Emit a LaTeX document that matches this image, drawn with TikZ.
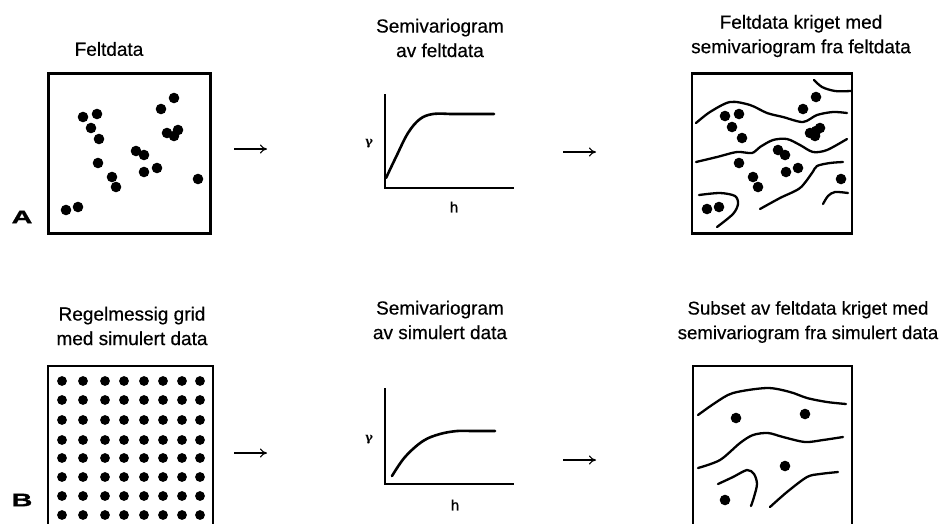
\documentclass[tikz,border=0pt]{standalone}
\usepackage{fontspec}
\setmainfont[FakeBold=0.4]{Liberation Sans}
\newfontfamily\labfont[FakeStretch=1.6,FakeBold=1.5]{Liberation Sans Bold}
\newfontfamily\hfont[FakeBold=0.8]{Liberation Sans}
\newfontfamily\gfont{DejaVu Serif}
\usetikzlibrary{arrows.meta}
\begin{document}
\begin{tikzpicture}[x=1pt,y=-1pt,
  frame/.style={draw,line width=2.4pt,inner sep=0pt},
  iso/.style={line width=2.3pt,line cap=round,line join=round},
  axis/.style={line width=2pt},
  curve/.style={line width=2.6pt,line cap=round},
  title/.style={align=center,font=\fontsize{19}{24.5}\selectfont,inner sep=0pt},
  panel/.style={font=\labfont\fontsize{18}{18}\selectfont,inner sep=0pt},
  gam/.style={font=\gfont\bfseries\fontsize{12}{12}\selectfont,inner sep=0pt},
  hlab/.style={font=\hfont\fontsize{15}{15}\selectfont,inner sep=0pt},
  flow/.style={line width=1.1pt,-{To[length=7pt,width=9pt]}}]
\useasboundingbox (0,0) rectangle (941,523);
\clip (0,0) rectangle (941,523);
\fill[white] (0,0) rectangle (941,523);

% ---------- Row A ----------
\node[title] (tA1) at (109,49) {Feltdata};
\node[title] (tA2) at (440,38) {Semivariogram\\av feltdata};
\node[title] (tA3) at (801,36) {Feltdata kriget med\\semivariogram fra feltdata};

\node[frame,minimum width=162pt,minimum height=160pt] (boxA) at (129.5,153.5) {};
\node[panel] (labA) at (22,217) {A};
\foreach \p in {(83,117),(97,114),(91,128),(99,139),(98,163),(112,177),(116,187),
  (66,210),(78,207),(136,151),(144,155),(144,172),(157,168),(161,109),(174,98),
  (167,133),(174,136),(178,130),(198,179)}
  \fill \p circle[radius=5.3];

\coordinate (a1s) at (234,149);
\coordinate (a1e) at (267,149);
\draw[flow] (a1s) -- (a1e);

% semivariogram A
\coordinate (oA) at (385,188);
\coordinate (yA) at (385,94);
\coordinate (xA) at (514,188);
\draw[axis] (yA) -- (oA) -- (xA);
\node[gam] (gA) at (369,144) {γ};
\node[hlab] (hA) at (454,207) {h};
\draw[curve] plot[smooth,tension=0.6] coordinates {(386,178) (396,157) (408,133) (420,119) (433,114) (450,114)} -- (494,114);

\coordinate (a2s) at (563,152);
\coordinate (a2e) at (596,152);
\draw[flow] (a2s) -- (a2e);

% kriged field A
\node[frame,minimum width=160pt,minimum height=160pt] (boxA3) at (772,153.5) {};
\draw[iso] plot[smooth] coordinates {(814,80) (822,87) (835,91) (851,91)};
\draw[iso] plot[smooth] coordinates {(696,123) (710,112) (730,102) (750,105) (767,113) (783,117) (803,122) (817,115) (833,112) (847,113)};
\draw[iso] plot[smooth] coordinates {(696,162) (717,157) (737,152) (752,153) (760,147) (773,140) (787,139) (800,145) (813,152) (827,150) (847,139)};
\draw[iso] plot[smooth] coordinates {(760,209) (780,198) (800,188) (812,173) (817,166) (830,163) (843,162)};
\draw[iso] plot[smooth] coordinates {(699,195) (720,193) (735,196) (738,204) (733,214) (717,227)};
\draw[iso] plot[smooth] coordinates {(823,204) (828,196) (835,192) (848,193)};
\foreach \p in {(725,116),(739,114),(732,127),(742,138),(803,109),(816,97),
  (810,133),(816,131),(820,128),(815,136),(778,150),(785,155),(739,163),
  (786,172),(798,168),(753,177),(758,187),(841,179),(707,209),(719,207)}
  \fill \p circle[radius=5.3];

% ---------- Row B ----------
\node[title] (tB1) at (132,326) {Regelmessig grid\\med simulert data};
\node[title] (tB2) at (440,320) {Semivariogram\\av simulert data};
\node[title,font=\fontsize{18.6}{24.5}\selectfont] (tB3) at (808,322) {Subset av feltdata kriget med\\semivariogram fra simulert data};

\node[frame,minimum width=165pt,minimum height=180pt] (boxB) at (130.5,456) {};
\node[panel] (labB) at (22,500) {B};
\foreach \x in {62,83,105,124,144,163,182,200}
  \foreach \y in {381,400,420,440,458,477,496,515}
    \fill (\x,\y) circle[radius=4.9];

\coordinate (b1s) at (234,453);
\coordinate (b1e) at (267,453);
\draw[flow] (b1s) -- (b1e);

% semivariogram B
\coordinate (oB) at (385,484);
\coordinate (yB) at (385,388);
\coordinate (xB) at (514,484);
\draw[axis] (yB) -- (oB) -- (xB);
\node[gam] (gB) at (369,440) {γ};
\node[hlab] (hB) at (455,505) {h};
\draw[curve] plot[smooth,tension=0.6] coordinates {(392,476) (405,457) (423,441) (440,434) (457,431) (470,431)} -- (495,431);

\coordinate (b2s) at (563,460);
\coordinate (b2e) at (596,460);
\draw[flow] (b2s) -- (b2e);

% kriged field B
\node[frame,minimum width=159pt,minimum height=180pt] (boxB3) at (772.5,456) {};
\draw[iso] plot[smooth] coordinates {(698,415) (715,403) (733,393) (767,388) (790,392) (807,398) (827,402) (846,404)};
\draw[iso] plot[smooth] coordinates {(698,468) (720,460) (740,443) (753,435) (768,433) (783,437) (805,442) (823,440) (843,437)};
\draw[iso] plot[smooth] coordinates {(718,484) (733,477) (747,470) (754,474) (757,484) (754,497) (751,506)};
\draw[iso] plot[smooth] coordinates {(770,507) (787,492) (807,477) (820,474) (838,472)};
\foreach \p in {(736,418),(805,414),(785,466),(725,500)}
  \fill \p circle[radius=5.3];
\end{tikzpicture}
\end{document}
